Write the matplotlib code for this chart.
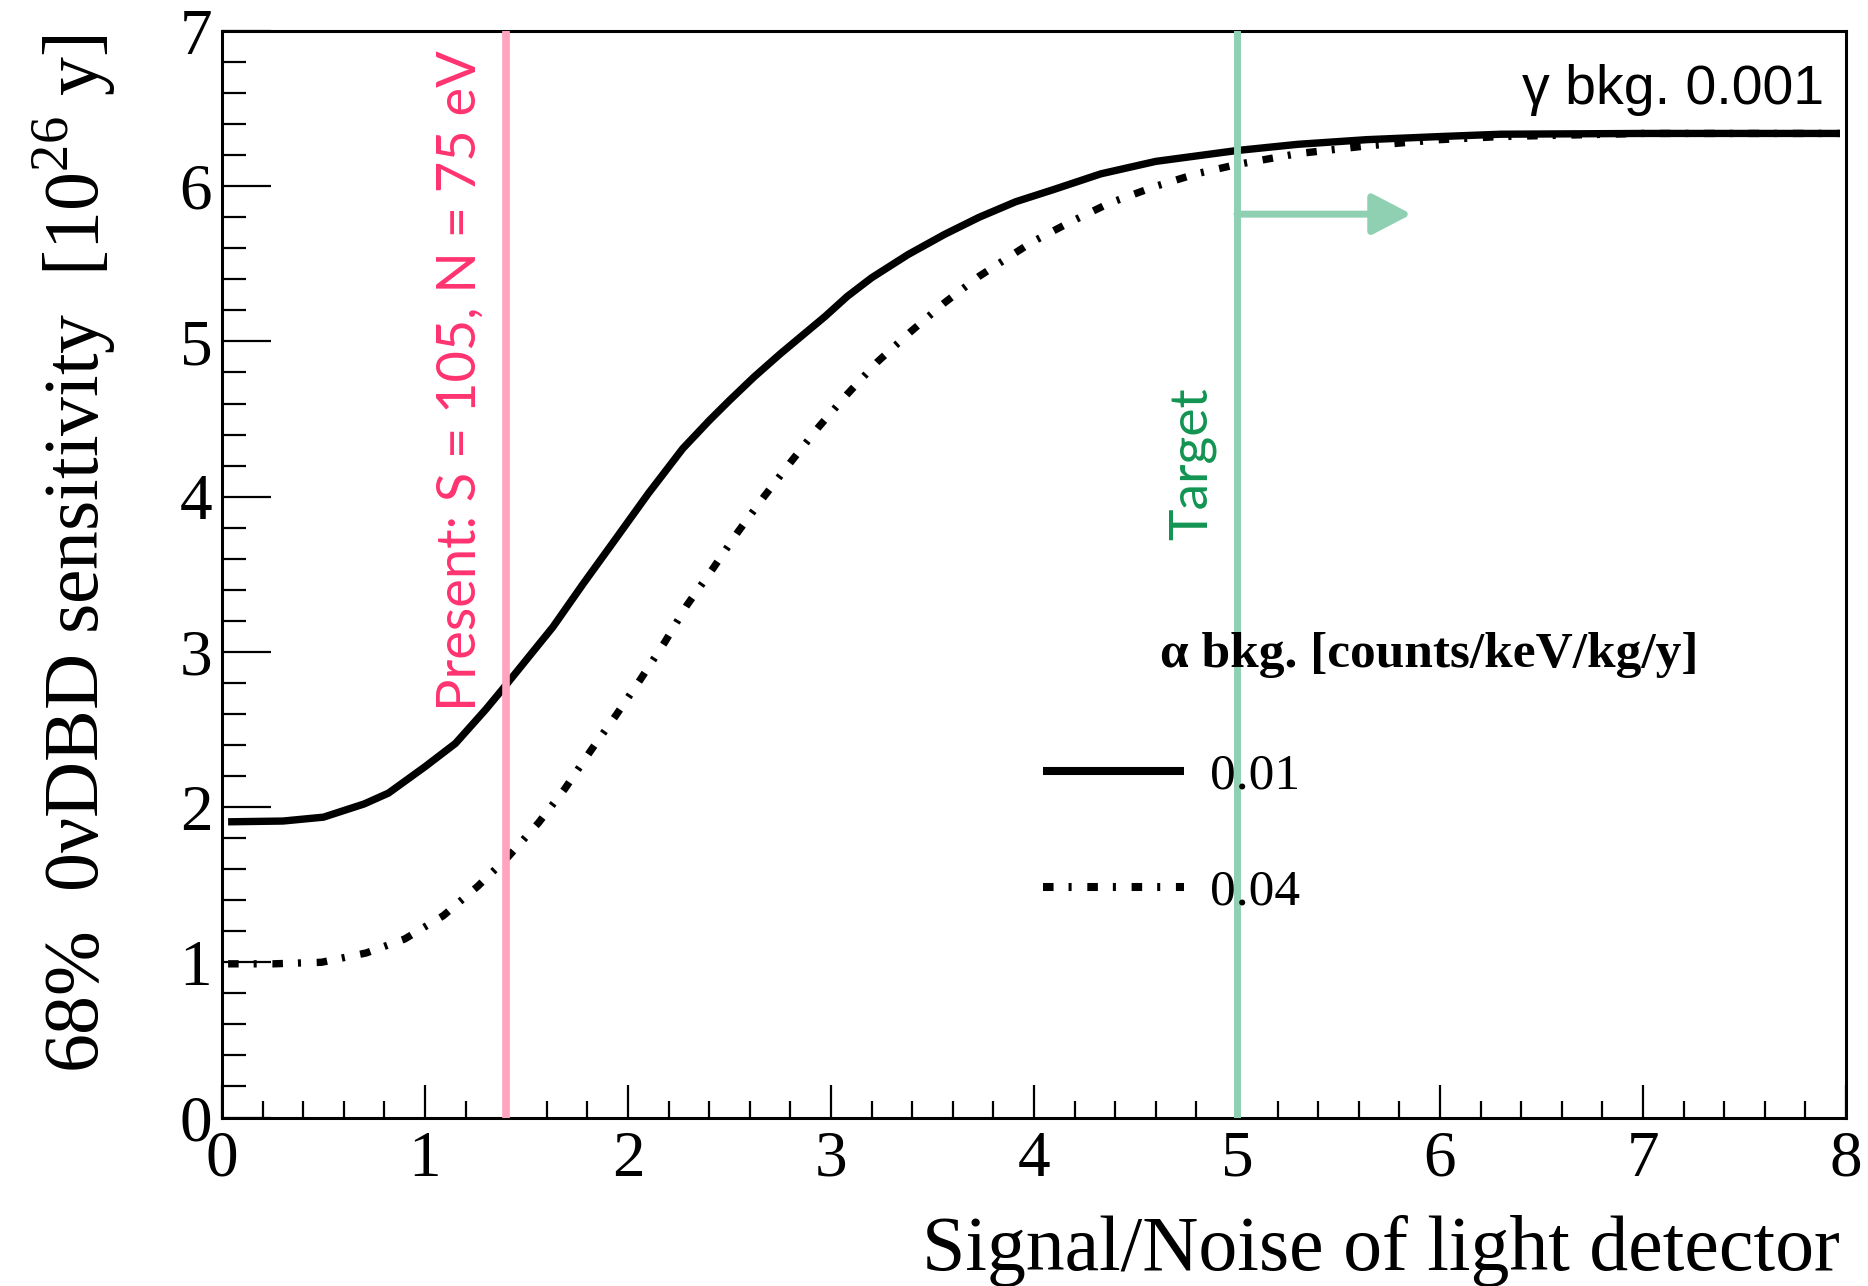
import matplotlib
matplotlib.use("Agg")
import matplotlib.pyplot as plt
from matplotlib.ticker import MultipleLocator

plt.rcParams['font.family'] = ['Liberation Serif', 'DejaVu Serif']
plt.rcParams['mathtext.fontset'] = 'custom'
plt.rcParams['mathtext.rm'] = 'Liberation Serif'
plt.rcParams['lines.scale_dashes'] = False

# alpha bkg 0.01 (solid)
sn_001 = [0.03, 0.3, 0.5, 0.7, 0.82, 1.0, 1.15, 1.3, 1.395, 1.5, 1.63, 1.78, 1.935,
          2.1, 2.27, 2.4, 2.5, 2.62, 2.75, 2.86, 2.97, 3.08, 3.2, 3.38, 3.56, 3.73,
          3.91, 4.1, 4.33, 4.6, 5.0, 5.3, 5.64, 6.0, 6.3, 7.0, 7.97]
sens_001 = [1.905, 1.91, 1.935, 2.02, 2.09, 2.26, 2.41, 2.63, 2.78, 2.95, 3.16, 3.44,
            3.72, 4.02, 4.31, 4.49, 4.62, 4.77, 4.92, 5.04, 5.16, 5.29, 5.41, 5.56,
            5.69, 5.80, 5.90, 5.98, 6.08, 6.16, 6.23, 6.27, 6.30, 6.32, 6.335, 6.34, 6.34]

# alpha bkg 0.04 (dash-dot)
sn_004 = [0.03, 0.25, 0.49, 0.71, 0.9, 1.09, 1.26, 1.41, 1.56, 1.69, 1.82, 1.94,
          2.06, 2.18, 2.29, 2.42, 2.54, 2.67, 2.8, 2.94, 3.08, 3.23, 3.39, 3.56,
          3.73, 3.86, 3.99, 4.18, 4.37, 4.6, 4.8, 5.0, 5.3, 5.64, 6.0, 6.3, 7.0, 7.97]
sens_004 = [0.99, 0.99, 1.0, 1.06, 1.15, 1.3, 1.49, 1.68, 1.9, 2.12, 2.37, 2.59,
            2.82, 3.06, 3.3, 3.54, 3.77, 4.0, 4.22, 4.45, 4.66, 4.87, 5.06, 5.25,
            5.42, 5.53, 5.64, 5.77, 5.89, 6.0, 6.08, 6.14, 6.21, 6.26, 6.3, 6.32, 6.34, 6.34]

labels = ['0.01', '0.04']
present_sn = 1.4
target_sn = 5.0
target_arrow_end = 5.86
target_arrow_y = 5.82

pink_line = '#ffa3bf'
pink_text = '#ff3370'
green_line = '#8fd0b3'
green_text = '#129452'

fig = plt.figure(figsize=(18.68, 12.86), dpi=100)
ax = fig.add_axes([222/1868, 1-1117.5/1286, 1624/1868, 1086.5/1286])

dashdot = (0, (7.6, 10.8, 2.2, 11.3))
l1, = ax.plot(sn_001, sens_001, color='black', lw=5.3, solid_capstyle='butt',
              solid_joinstyle='round')
l2, = ax.plot(sn_004, sens_004, color='black', lw=5.3, linestyle=dashdot,
              dash_capstyle='butt', dash_joinstyle='round')

ax.axvline(present_sn, color=pink_line, lw=5.5, zorder=3)
ax.axvline(target_sn, color=green_line, lw=5.0, zorder=3)
ax.annotate('', xy=(target_arrow_end, target_arrow_y), xytext=(target_sn, target_arrow_y),
            arrowprops=dict(arrowstyle='-|>,head_length=2.4,head_width=1.25',
                            mutation_scale=10, lw=5, color=green_line,
                            shrinkA=0, shrinkB=0))

ax.text(1.295, 2.62, 'Present: S = 105, N = 75 eV', rotation=90, color=pink_text,
        family='Lato', fontsize=39, ha='right', va='bottom')
ax.text(4.90, 3.72, 'Target', rotation=90, color=green_text,
        family='Lato', fontsize=38.5, ha='right', va='bottom')
ax.text(7.89, 6.53, 'γ bkg. 0.001', family=['Liberation Sans'], fontsize=40,
        ha='right', va='baseline')

ax.text(4.62, 2.90, 'α bkg. [counts/keV/kg/y]', fontsize=37, fontweight='bold',
        ha='left', va='baseline')
leg = ax.legend([l1, l2], labels, loc='upper left', bbox_to_anchor=(1043/1868, 1-753/1286),
                bbox_transform=fig.transFigure, frameon=False, fontsize=37,
                handlelength=2.75, handletextpad=0.5, labelspacing=1.34,
                borderpad=0, borderaxespad=0)
for h in leg.get_lines():
    h.set_linewidth(5.8)

ax.set_xlim(0, 8)
ax.set_ylim(0, 7)
ax.xaxis.set_major_locator(MultipleLocator(1))
ax.xaxis.set_minor_locator(MultipleLocator(0.2))
ax.yaxis.set_major_locator(MultipleLocator(1))
ax.yaxis.set_minor_locator(MultipleLocator(0.2))
ax.tick_params(axis='x', which='major', direction='in', length=24, width=1.6,
               labelsize=47, pad=9)
ax.tick_params(axis='x', which='minor', direction='in', length=12, width=1.6)
ax.tick_params(axis='y', which='major', direction='in', length=35, width=1.6,
               labelsize=47, pad=7)
ax.tick_params(axis='y', which='minor', direction='in', length=17, width=1.6)
for s in ax.spines.values():
    s.set_linewidth(2.2)

fig.text(1840/1868, 1-1270/1286, 'Signal/Noise of light detector', fontsize=56,
         ha='right', va='baseline')
fig.text(74/1868, 1-34/1286, '68%  0νDBD sensitivity  [10$^{26}$ y]', fontsize=56,
         rotation=90, ha='center', va='top')

fig.savefig('out.png', dpi=100)
